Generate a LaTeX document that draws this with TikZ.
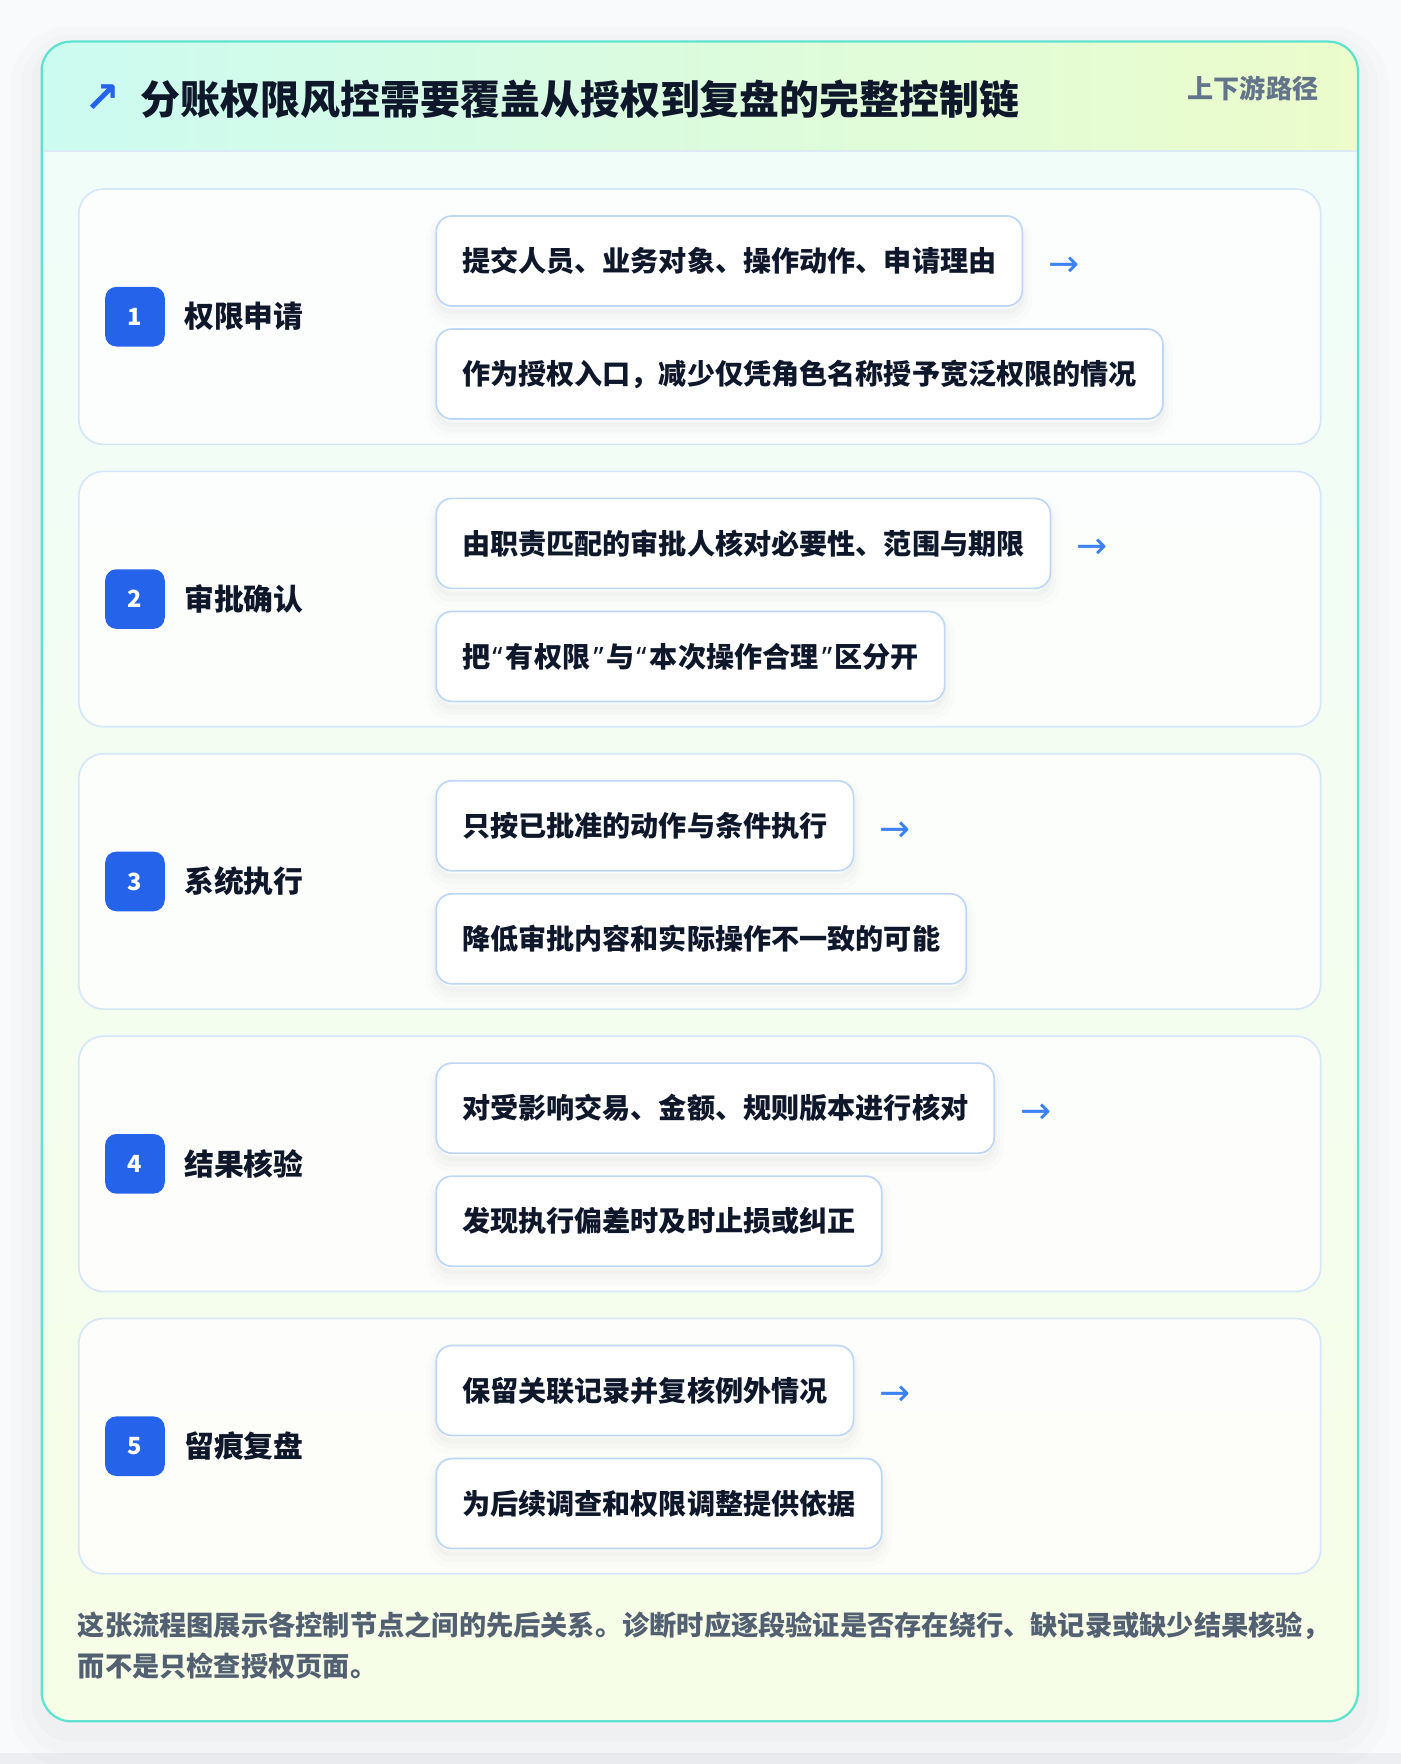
\documentclass[tikz,border=0pt]{standalone}
\usepackage{fontspec}
\setmainfont{Noto Sans CJK SC}
\newfontfamily\symfont{DejaVu Sans}
\newfontfamily\quotefont{Noto Sans}
\newcommand{\openq}{{\kern2pt\quotefont “\kern3pt}}
\newcommand{\closeq}{{\kern3pt\quotefont ”\kern2pt}}
\usepackage{tikz}
\usetikzlibrary{positioning}
\usepackage{xcolor}
\definecolor{pagebg}{HTML}{F9FAFB}
\definecolor{pageedge}{HTML}{ECEEF1}
\definecolor{cardline}{HTML}{5FE3CF}
\definecolor{headleft}{HTML}{CCFBF1}
\definecolor{headright}{HTML}{ECFCCB}
\definecolor{bodytop}{HTML}{F0FDFA}
\definecolor{bodybottom}{HTML}{F7FEE7}
\definecolor{sepline}{HTML}{DCEAF6}
\definecolor{stepline}{HTML}{D6E6FB}
\definecolor{boxline}{HTML}{BFD7F6}
\definecolor{badgeblue}{HTML}{2563EB}
\definecolor{ink}{HTML}{0F172A}
\definecolor{taggray}{HTML}{64748B}
\definecolor{notegray}{HTML}{526072}
\definecolor{arrowblue}{HTML}{3B82F6}
\tikzset{%
	soft shadow/.style={
		preaction={draw=black, line width=18pt, draw opacity=0.012, transform canvas={yshift=-8pt}},
		preaction={draw=black, line width=10pt, draw opacity=0.015, transform canvas={yshift=-7pt}},
		preaction={draw=black, line width=4pt, draw opacity=0.02, transform canvas={yshift=-5pt}}
	},
	step card/.style={
		draw=stepline,
		line width=1.5pt,
		fill=white,
		fill opacity=0.8,
		rounded corners=22pt,
		minimum width=1104pt,
		minimum height=227pt
	},
	badge/.style={
		fill=badgeblue,
		rounded corners=10pt,
		minimum size=53pt,
		inner sep=0pt,
		text=white,
		font=\fontsize{21}{24}\selectfont\bfseries
	},
	step label/.style={
		inner sep=0pt,
		text=ink,
		font=\fontsize{26.5}{30}\selectfont\bfseries
	},
	sub box/.style={
		soft shadow,
		draw=boxline,
		line width=1.5pt,
		fill=white,
		rounded corners=14pt,
		minimum height=80pt,
		inner xsep=23pt,
		text=ink,
		font=\fontsize{25}{30}\selectfont\bfseries
	},
	next arrow/.style={
		inner sep=0pt,
		text=arrowblue,
		font=\symfont\fontsize{33}{36}\selectfont
	},
}

\begin{document}
\begin{tikzpicture}[x=1pt,y=-1pt]
			\useasboundingbox (0,0) rectangle (1245,1568);
			\fill[pagebg] (0,0) rectangle (1245,1568);
			\fill[pageedge] (0,1558) rectangle (1245,1568);
			
			% Outer card
			\path[rounded corners=26pt,
				preaction={draw=black, line width=56pt, draw opacity=0.010, transform canvas={yshift=-14pt}},
				preaction={draw=black, line width=36pt, draw opacity=0.012, transform canvas={yshift=-12pt}},
				preaction={draw=black, line width=18pt, draw opacity=0.015, transform canvas={yshift=-9pt}}] (37,37) rectangle (1207,1530);
			\shade[top color=bodytop, bottom color=bodybottom, rounded corners=26pt] (37,37) rectangle (1207,1530);
			\begin{scope}
				\clip[rounded corners=26pt] (37,37) rectangle (1207,1530);
				\shade[left color=headleft, right color=headright] (37,37) rectangle (1207,134);
			\end{scope}
			\draw[sepline, line width=1.5pt] (37,134) -- (1207,134);
			\draw[cardline, line width=2pt, rounded corners=26pt] (37,37) rectangle (1207,1530);
			
			% Header
			\node[text=badgeblue, inner sep=0pt, font=\symfont\fontsize{38}{40}\selectfont\bfseries] (icon) at (91,88) {↗};
			\node[anchor=west, inner sep=0pt, text=ink, font=\fontsize{35.5}{40}\selectfont\bfseries] (title) at (125,88) {分账权限风控需要覆盖从授权到复盘的完整控制链};
			\node[anchor=east, inner sep=0pt, text=taggray, font=\fontsize{23.2}{26}\selectfont\bfseries] (tag) at (1172,79) {上下游路径};
			
			% Step 1
			\node[step card] (card1) at (622,281.5) {};
			\node[badge, right=24pt of card1.west] (badge1) {1};
			\node[step label, right=17pt of badge1] (label1) {权限申请};
			\node[sub box, anchor=west] (a1) at (387,232) {提交人员、业务对象、操作动作、申请理由};
			\node[sub box, below=19pt of a1.south west, anchor=north west] (b1) {作为授权入口，减少仅凭角色名称授予宽泛权限的情况};
			\node[next arrow, right=22pt of a1, yshift=-5pt] (n1) {→};
			
			% Step 2
			\node[step card] (card2) at (622,532.5) {};
			\node[badge, right=24pt of card2.west] (badge2) {2};
			\node[step label, right=17pt of badge2] (label2) {审批确认};
			\node[sub box, anchor=west] (a2) at (387,483) {由职责匹配的审批人核对必要性、范围与期限};
			\node[sub box, below=19pt of a2.south west, anchor=north west] (b2) {把\openq 有权限\closeq 与\openq 本次操作合理\closeq 区分开};
			\node[next arrow, right=22pt of a2, yshift=-5pt] (n2) {→};
			
			% Step 3
			\node[step card] (card3) at (622,783.5) {};
			\node[badge, right=24pt of card3.west] (badge3) {3};
			\node[step label, right=17pt of badge3] (label3) {系统执行};
			\node[sub box, anchor=west] (a3) at (387,734) {只按已批准的动作与条件执行};
			\node[sub box, below=19pt of a3.south west, anchor=north west] (b3) {降低审批内容和实际操作不一致的可能};
			\node[next arrow, right=22pt of a3, yshift=-5pt] (n3) {→};
			
			% Step 4
			\node[step card] (card4) at (622,1034.5) {};
			\node[badge, right=24pt of card4.west] (badge4) {4};
			\node[step label, right=17pt of badge4] (label4) {结果核验};
			\node[sub box, anchor=west] (a4) at (387,985) {对受影响交易、金额、规则版本进行核对};
			\node[sub box, below=19pt of a4.south west, anchor=north west] (b4) {发现执行偏差时及时止损或纠正};
			\node[next arrow, right=22pt of a4, yshift=-5pt] (n4) {→};
			
			% Step 5
			\node[step card] (card5) at (622,1285.5) {};
			\node[badge, right=24pt of card5.west] (badge5) {5};
			\node[step label, right=17pt of badge5] (label5) {留痕复盘};
			\node[sub box, anchor=west] (a5) at (387,1236) {保留关联记录并复核例外情况};
			\node[sub box, below=19pt of a5.south west, anchor=north west] (b5) {为后续调查和权限调整提供依据};
			\node[next arrow, right=22pt of a5, yshift=-5pt] (n5) {→};
			
			% Note below the steps
			\node[anchor=base west, inner sep=0pt, text=notegray, font=\fontsize{24.2}{36}\selectfont\bfseries] (note1) at (69,1454) {这张流程图展示各控制节点之间的先后关系。诊断时应逐段验证是否存在绕行、缺记录或缺少结果核验，};
			\node[anchor=base west, inner sep=0pt, text=notegray, font=\fontsize{24.2}{36}\selectfont\bfseries] (note2) at (69,1490) {而不是只检查授权页面。};
		\end{tikzpicture}
\end{document}
